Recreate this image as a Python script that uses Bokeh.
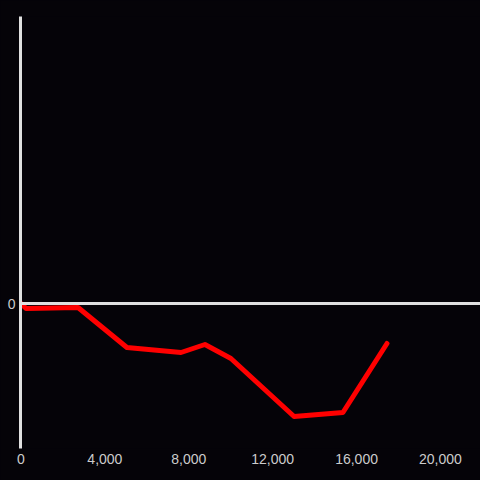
from bokeh.plotting import figure
from bokeh.models import Span, FixedTicker, NumeralTickFormatter, Range1d, ColumnDataSource, GlobalInlineStyleSheet
from bokeh.embed import file_html
from bokeh.resources import INLINE

# data
xs = [0, 240, 2720, 5050, 7630, 8770, 10010, 13020, 15350, 17450]
ys = [0, -5, -4, -44, -49, -41, -55, -113, -109, -40]
x_ticks = [0, 4000, 8000, 12000, 16000, 20000]
y_ticks = [0]

BG = "#050308"
AX = "#e0e0e0"
LBL = "#cccccc"

p = figure(width=480, height=480, output_backend="svg", toolbar_location=None,
           x_range=Range1d(-24, 21910), y_range=Range1d(-145, 287),
           background_fill_color=BG, border_fill_color=BG, outline_line_color=None,
           min_border_left=20, min_border_right=0, min_border_top=16, min_border_bottom=32)

p.grid.visible = False

p.xaxis.ticker = FixedTicker(ticks=x_ticks)
p.xaxis.formatter = NumeralTickFormatter(format="0,0")
p.xaxis.axis_line_color = None
p.xaxis.major_tick_line_color = None
p.xaxis.minor_tick_line_color = None
p.xaxis.major_tick_out = 0
p.xaxis.major_tick_in = 0
p.xaxis.major_label_standoff = 5
p.xaxis.major_label_text_color = LBL
p.xaxis.major_label_text_font = "Liberation Sans"
p.xaxis.major_label_text_font_size = "14px"

p.yaxis.ticker = FixedTicker(ticks=y_ticks)
p.yaxis.axis_line_color = AX
p.yaxis.axis_line_width = 3
p.yaxis.major_tick_line_color = None
p.yaxis.minor_tick_line_color = None
p.yaxis.major_tick_out = 0
p.yaxis.major_tick_in = 0
p.yaxis.major_label_standoff = 5
p.yaxis.major_label_text_color = LBL
p.yaxis.major_label_text_font = "Liberation Sans"
p.yaxis.major_label_text_font_size = "14px"

p.add_layout(Span(location=0, dimension="width", line_color=AX, line_width=3))

src = ColumnDataSource(data=dict(x=xs, y=ys))
p.line("x", "y", source=src, line_color="#ff0000", line_width=5,
       line_cap="round", line_join="round")

p.stylesheets = [GlobalInlineStyleSheet(css="html, body { background: %s; margin: 0; }" % BG)]

open("out.html", "w").write(file_html(p, INLINE))
